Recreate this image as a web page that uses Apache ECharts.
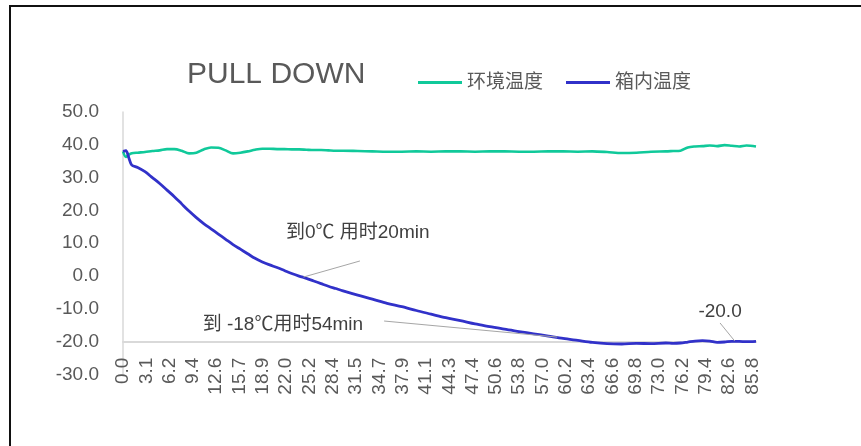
<!DOCTYPE html>
<html>
<head>
<meta charset="utf-8">
<script src="https://cdn.jsdelivr.net/npm/echarts@6/dist/echarts.min.js"></script>
<style>
  html, body { margin: 0; padding: 0; background: #fff; }
  #chart { position: absolute; left: 0; top: 0; width: 861px; height: 446px; }
  #frame { position: absolute; left: 9px; top: 5px; width: 900px; height: 500px;
           border-left: 2px solid #111; border-top: 2px solid #111; pointer-events: none; }
</style>
</head>
<body>
<div id="chart"></div>
<div id="frame"></div>
<script>
// ---- data (minutes, °C) ----
const times = [0, 0.4, 0.8, 1.2, 2, 3, 4, 5, 6, 7, 8, 9, 10, 11, 12, 13, 14, 15, 16, 17, 18, 19, 20,
  21, 22, 23, 24, 25, 26, 27, 28, 29, 30, 32, 34, 36, 38, 40, 42, 44, 46, 48, 50, 52, 54, 56, 58,
  60, 62, 64, 66, 68, 70, 72, 74, 75, 76, 77, 78, 79, 80, 81, 82, 83, 84, 85, 86.3];

const ambientTemp = [38.0, 36.3, 37.0, 37.4, 37.6, 37.8, 38.1, 38.3, 38.7, 38.7, 38.2, 37.4, 37.6,
  38.6, 39.2, 39.1, 38.3, 37.4, 37.6, 38.0, 38.5, 38.8, 38.8, 38.7, 38.7, 38.6, 38.6, 38.5, 38.4,
  38.4, 38.3, 38.2, 38.2, 38.1, 38.0, 37.9, 37.9, 38.0, 37.9, 38.0, 38.0, 37.9, 38.0, 38.0, 37.9,
  37.9, 38.0, 38.0, 37.9, 38.0, 37.8, 37.5, 37.6, 37.9, 38.0, 38.1, 38.2, 39.2, 39.5, 39.6, 39.8,
  39.6, 39.9, 39.7, 39.5, 39.8, 39.5];

const cabinTemp = [38.0, 38.2, 36.0, 33.8, 33.1, 31.8, 30.0, 28.2, 26.2, 24.2, 22.0, 19.8, 17.8,
  16.0, 14.4, 12.8, 11.2, 9.6, 8.2, 6.8, 5.4, 4.3, 3.4, 2.6, 1.7, 0.8, 0.0, -0.7, -1.5, -2.3, -3.1,
  -3.8, -4.5, -5.8, -7.0, -8.3, -9.3, -10.5, -11.6, -12.7, -13.6, -14.6, -15.4, -16.2, -16.9, -17.6,
  -18.3, -19.0, -19.6, -20.2, -20.6, -20.7, -20.5, -20.6, -20.4, -20.5, -20.4, -20.1, -19.8, -19.7,
  -19.8, -20.2, -20.1, -19.9, -19.9, -20.0, -19.9];

const tickLabels = ['0.0', '3.1', '6.2', '9.4', '12.6', '15.7', '18.9', '22.0', '25.2', '28.4',
  '31.5', '34.7', '37.9', '41.1', '44.3', '47.4', '50.6', '53.8', '57.0', '60.2', '63.4', '66.6',
  '69.8', '73.0', '76.2', '79.4', '82.6', '85.8'];

const seriesNames = ['环境温度', '箱内温度'];
const annotationTexts = ['到0℃ 用时20min', '到 -18℃用时54min', '-20.0'];

// ---- chart ----
const FONT = '"Liberation Sans", Arial, "Noto Sans CJK SC", sans-serif';
const lastLabel = parseFloat(tickLabels[tickLabels.length - 1]);
const step = lastLabel / (tickLabels.length - 1);
const xMax = times[times.length - 1];

const chart = echarts.init(document.getElementById('chart'), null, { renderer: 'canvas' });

const leaderStyle = { color: '#a6a6a6', width: 1, type: 'solid' };
const noteLabel = { show: true, position: 'inside', color: '#404040', fontSize: 19, fontFamily: FONT,
  formatter: p => p.name };

chart.setOption({
  animation: false,
  backgroundColor: '#ffffff',
  title: {
    text: 'PULL DOWN', left: 187, top: 60, padding: 0,
    textStyle: { fontSize: 30, fontWeight: 'normal', color: '#595959', fontFamily: FONT }
  },
  legend: {
    left: 418, top: 73, padding: 0, itemWidth: 44, itemHeight: 3, itemGap: 23, icon: 'rect',
    textStyle: { fontSize: 19, color: '#595959', fontFamily: FONT },
    data: seriesNames
  },
  grid: { left: 123, top: 112, right: 105, bottom: 71.5, containLabel: false, outerBoundsMode: 'none' },
  xAxis: {
    type: 'value', min: 0, max: xMax, interval: step, offset: -32.8,
    axisLine: { show: true, onZero: false, lineStyle: { color: '#d9d9d9', width: 2 } },
    axisTick: { show: false },
    splitLine: { show: false },
    axisLabel: {
      rotate: 90, margin: 16, fontSize: 19, color: '#595959', fontFamily: FONT,
      showMinLabel: true, showMaxLabel: true,
      formatter: v => {
        const i = Math.round(v / step);
        return (Math.abs(v - i * step) < 0.05 && i < tickLabels.length) ? tickLabels[i] : '';
      }
    }
  },
  yAxis: {
    type: 'value', min: -30, max: 50, interval: 10,
    axisLine: { show: true, onZero: false, lineStyle: { color: '#d9d9d9', width: 1.5 } },
    axisTick: { show: false },
    splitLine: { show: false },
    axisLabel: { margin: 24, fontSize: 19, color: '#595959', fontFamily: FONT,
      formatter: v => v.toFixed(1) }
  },
  series: [
    {
      name: seriesNames[0], type: 'line', showSymbol: false, symbol: 'none', smooth: 0.3,
      color: '#10c99a', lineStyle: { width: 2.6, color: '#10c99a' },
      data: times.map((t, i) => [t, ambientTemp[i]])
    },
    {
      name: seriesNames[1], type: 'line', showSymbol: false, symbol: 'none', smooth: 0.3,
      color: '#3131c9', lineStyle: { width: 2.8, color: '#3131c9' },
      data: times.map((t, i) => [t, cabinTemp[i]]),
      markLine: {
        silent: true, symbol: ['none', 'none'], lineStyle: leaderStyle, label: { show: false },
        data: [
          [{ coord: [24.6, -0.3] }, { coord: [32.3, 4.6] }],
          [{ coord: [35.6, -13.7] }, { coord: [59.2, -18.6] }],
          [{ coord: [81.4, -14.3] }, { coord: [83.4, -19.8] }]
        ]
      },
      markPoint: {
        silent: true, symbol: 'circle', symbolSize: 1, itemStyle: { color: 'rgba(0,0,0,0)' },
        label: noteLabel,
        data: [
          { name: annotationTexts[0], coord: [32.0, 13.3] },
          { name: annotationTexts[1], coord: [21.8, -14.9] },
          { name: annotationTexts[2], coord: [81.4, -10.9] }
        ]
      }
    }
  ]
});
</script>
</body>
</html>
